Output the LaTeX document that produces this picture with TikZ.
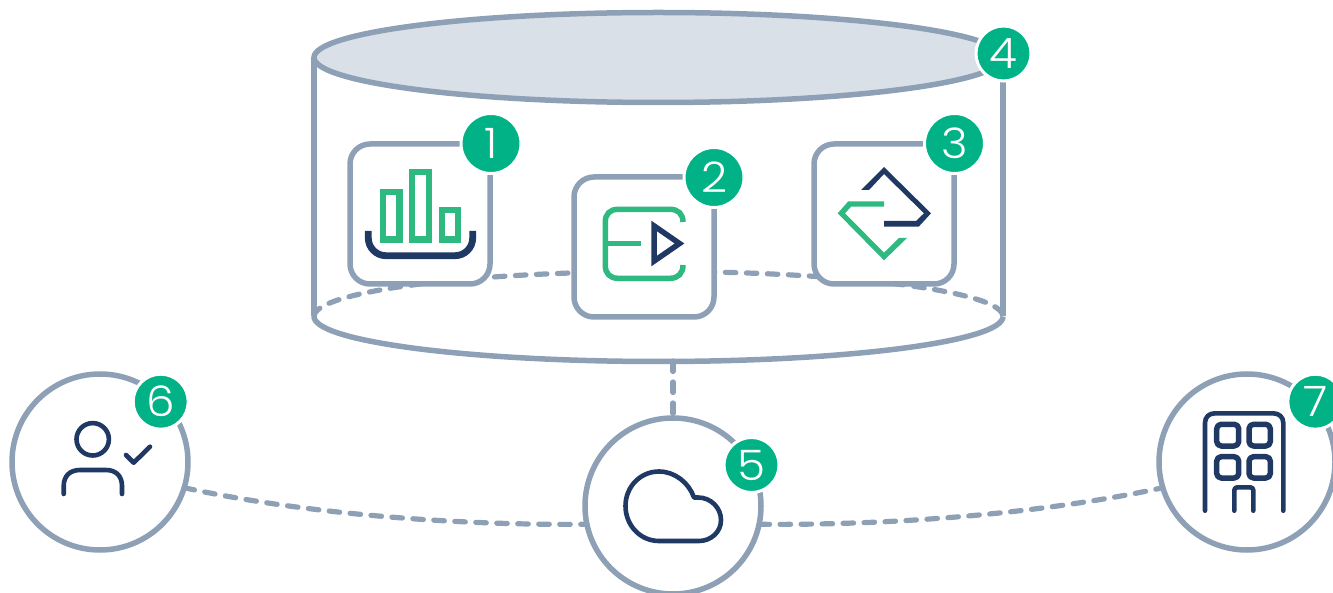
\documentclass[tikz,border=0pt]{standalone}
\usepackage{fontspec}
\newfontfamily\digitfont[UprightFont=* Light,FakeStretch=1.08]{Poppins}
\definecolor{edge}{HTML}{8EA0B6}
\definecolor{lid}{HTML}{DAE0E8}
\definecolor{navy}{HTML}{1F3864}
\definecolor{leaf}{HTML}{2EB981}
\definecolor{badgegreen}{HTML}{00B285}
\tikzset{
  linkline/.style={draw=edge,line width=5.2pt,line cap=round,dash pattern=on 10.5pt off 10.5pt},
  shell/.style={draw=edge,line width=5.5pt},
  cardbox/.style={shell,fill=white,rectangle,rounded corners=20pt,minimum size=140pt,outer sep=0pt,inner sep=0pt},
  roundbox/.style={shell,fill=white,circle,minimum size=176pt,outer sep=0pt,inner sep=0pt},
  badgebase/.style={circle,fill=badgegreen,draw=white,line width=3pt,text=white,inner sep=0pt,outer sep=0pt,font=\digitfont\fontsize{42}{42}\selectfont},
  bigbadge/.style={badgebase,minimum size=60pt},
  smallbadge/.style={badgebase,minimum size=55pt},
  navyicon/.style={draw=navy,line width=4.6pt,line cap=round,line join=round},
  barbox/.style={draw=leaf,line width=6.3pt,fill=white},
}
\begin{document}
\begin{tikzpicture}[x=1pt,y=-1pt]
\useasboundingbox (0,0) rectangle (1333,593);
\coordinate (cylbottom) at (673,361);
% cylinder
\draw[shell] (314,57.5) -- (314,316.5);
\draw[shell] (1003,57.5) -- (1003,316.5);
\draw[shell] (314,316.5) arc[start angle=180,end angle=360,x radius=344.5pt,y radius=45pt];
\draw[linkline] (314,316.5) arc[start angle=180,end angle=0,x radius=344.5pt,y radius=45pt];
\draw[shell,fill=lid] (658.5,57.5) ellipse[x radius=344.5pt,y radius=45pt];
% cards and round nodes
\node[cardbox] (card1) at (420,214) {};
\node[cardbox] (card2) at (644,247) {};
\node[cardbox] (card3) at (884,214) {};
\node[roundbox] (person) at (100,462) {};
\node[roundbox] (cloud) at (673,506) {};
\node[roundbox] (building) at (1247,462) {};
% connectors
\draw[linkline] (cylbottom) -- (cloud.north);
\draw[linkline] (person.-17) .. controls (300,513) and (450,525.5) .. (cloud.192);
\draw[linkline] (cloud.-12) .. controls (896,525.5) and (1046,513) .. (building.197);
% chart icon
\draw[barbox] (383,192) rectangle (399.5,239.5);
\draw[barbox] (412.3,171.7) rectangle (428.7,239.5);
\draw[barbox] (441.7,210) rectangle (457.7,239.5);
\draw[draw=navy,line width=6.8pt] (368.3,231) -- (368.3,238) arc[start angle=180,end angle=270,radius=17.7pt] -- (455,255.7) arc[start angle=270,end angle=360,radius=17.7pt] -- (472.7,231);
% flow icon
\draw[draw=leaf,line width=5.5pt] (683,222) .. controls (683,214) and (678,209.3) .. (670,209.3) -- (618,209.3) .. controls (610,209.3) and (605.3,214) .. (605.3,222) -- (605.3,265.5) .. controls (605.3,273.5) and (610,278.3) .. (618,278.3) -- (670,278.3) .. controls (678,278.3) and (683,273.5) .. (683,265);
\draw[draw=leaf,line width=5.5pt] (605.3,243.3) -- (641,243.3);
\draw[draw=navy,line width=5.5pt,line join=miter,fill=white] (654.2,226) -- (679.5,243.5) -- (654.2,261) -- cycle;
% exchange icon
\fill[navy] (861,190) -- (884,167) -- (931,213.3) -- (918.7,226.7) -- (884,226.7) -- (884,221) -- (916,221) -- (924,213.3) -- (884,174) -- (869,190) -- cycle;
\fill[leaf] (884,201.3) -- (848.3,201.3) -- (837.7,213.3) -- (884,260.3) -- (907,238) -- (899,238) -- (884,252.7) -- (845,213.3) -- (851,206.7) -- (884,206.7) -- cycle;
% person icon
\draw[navyicon] (92.7,439.3) circle[radius=16.2pt];
\draw[navyicon] (63.7,494) -- (63.7,486) .. controls (63.7,476) and (70,470) .. (80,470) -- (106,470) .. controls (116,470) and (122,476) .. (122,486) -- (122,494);
\draw[navyicon] (126,455) -- (133.7,462.7) -- (150,446.7);
% cloud icon
\draw[navyicon] (659,541) .. controls (640,541) and (625.5,525) .. (625.5,506) .. controls (625.5,487) and (640,471.5) .. (659,471.5) .. controls (675,471.5) and (689,483) .. (694,497.5) -- (698,497.5) .. controls (711,497.5) and (721,508) .. (721,520) .. controls (721,532) and (711,541) .. (699,541) -- cycle;
% building icon
\draw[navyicon] (1205,510.7) -- (1205,423) .. controls (1205,417) and (1209,413.3) .. (1215,413.3) -- (1273,413.3) .. controls (1279,413.3) and (1283.3,417) .. (1283.3,423) -- (1283.3,510.7);
\draw[navyicon,line width=5.5pt,rounded corners=4.5pt] (1216.7,424.3) rectangle (1238.7,446);
\draw[navyicon,line width=5.5pt,rounded corners=4.5pt] (1249,424.3) rectangle (1270.3,446);
\draw[navyicon,line width=5.5pt,rounded corners=4.5pt] (1216.7,456.7) rectangle (1238.7,478);
\draw[navyicon,line width=5.5pt,rounded corners=4.5pt] (1249,456.7) rectangle (1270.3,478);
\draw[navyicon,rounded corners=3pt] (1234.3,510.7) -- (1234.3,487.3) -- (1253.3,487.3) -- (1253.3,510.7);
% badges
\node[bigbadge] (b1) at (491,143.5) {1};
\node[bigbadge] (b2) at (714,177.5) {2};
\node[bigbadge] (b3) at (954.5,143.5) {3};
\node[smallbadge] (b4) at (1003.5,53.5) {4};
\node[smallbadge] (b5) at (751.5,465) {5};
\node[smallbadge] (b6) at (160.7,401.7) {6};
\node[smallbadge] (b7) at (1315.3,401.7) {7};
\end{tikzpicture}
\end{document}
